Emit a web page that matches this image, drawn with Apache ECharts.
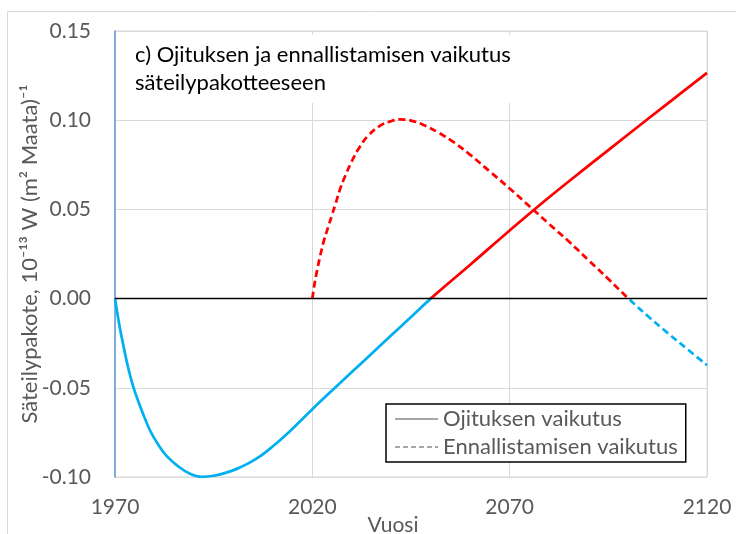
<!DOCTYPE html>
<html>
<head>
<meta charset="utf-8">
<script src="https://cdn.jsdelivr.net/npm/echarts@6/dist/echarts.min.js"></script>
<style>
  html, body { margin: 0; padding: 0; background: #fff; }
  #chart { width: 736px; height: 534px; }
</style>
</head>
<body>
<div id="chart"></div>
<script>
// Ojituksen vaikutus (solid)
const ojitusYears = [1970, 1971, 1972, 1973, 1974, 1975, 1977, 1979, 1981, 1983, 1986, 1989, 1992, 1995, 1998, 2001, 2004, 2007, 2010, 2013, 2016, 2020, 2025, 2030, 2035, 2040, 2045, 2050, 2060, 2070, 2080, 2090, 2100, 2110, 2120];
const ojitusValues = [0, -0.0135, -0.025, -0.0355, -0.0445, -0.052, -0.064, -0.0745, -0.082, -0.088, -0.094, -0.0982, -0.0999, -0.0993, -0.0977, -0.0953, -0.0921, -0.088, -0.0828, -0.077, -0.0707, -0.062, -0.0515, -0.0412, -0.0309, -0.0206, -0.0103, 0, 0.019, 0.0382, 0.0568, 0.0745, 0.092, 0.1093, 0.1265];

// Ennallistamisen vaikutus (dashed)
const ennallYears = [2020, 2020.5, 2021, 2022, 2023, 2024, 2025, 2026, 2027, 2028, 2030, 2032, 2034, 2037, 2040, 2042, 2045, 2048, 2052, 2056, 2060, 2065, 2070, 2075, 2080, 2085, 2090, 2095, 2100, 2105, 2110, 2115, 2120];
const ennallValues = [0, 0.0075, 0.0135, 0.024, 0.033, 0.040, 0.047, 0.054, 0.0612, 0.067, 0.077, 0.085, 0.091, 0.0967, 0.0995, 0.1004, 0.0998, 0.0975, 0.093, 0.0874, 0.0806, 0.0712, 0.0617, 0.0518, 0.0418, 0.032, 0.0215, 0.011, 0.0002, -0.0098, -0.0192, -0.0283, -0.0373];

const yTicks = [-0.10, -0.05, 0.00, 0.05, 0.10, 0.15];
const seriesNames = ["Ojituksen vaikutus", "Ennallistamisen vaikutus"];

const FONT = "Lato";
const GRAY = "#595959";
const zip = (xs, ys) => xs.map((x, i) => [x, ys[i]]);

const chart = echarts.init(document.getElementById("chart"));
chart.setOption({
  animation: false,
  textStyle: { fontFamily: FONT },
  graphic: [
    {
      type: "rect",
      shape: { x: 7.5, y: 11.5, width: 740, height: 540 },
      style: { fill: null, stroke: "#d9d9d9", lineWidth: 1 },
      silent: true,
    },
  ],
  title: {
    text: "c) Ojituksen ja ennallistamisen vaikutus\nsäteilypakotteeseen",
    left: 125,
    top: 35,
    padding: [6, 8, 6, 10],
    backgroundColor: "#fff",
    textStyle: {
      fontFamily: FONT,
      fontSize: 22,
      fontWeight: "normal",
      color: "#000",
      lineHeight: 28,
    },
  },
  legend: {
    orient: "vertical",
    left: 386,
    top: 404,
    padding: [4, 8, 4, 8],
    itemGap: 6,
    itemWidth: 43,
    itemHeight: 14,
    borderColor: "#000",
    borderWidth: 1.5,
    borderRadius: 0,
    backgroundColor: "#fff",
    data: seriesNames,
    itemStyle: { opacity: 0 },
    textStyle: { fontFamily: FONT, fontSize: 22, color: GRAY },
  },
  grid: {
    left: 115,
    right: 29,
    top: 31,
    bottom: 57,
    outerBoundsMode: "none",
    show: true,
    borderColor: "#d9d9d9",
    borderWidth: 1,
  },
  xAxis: {
    type: "value",
    min: 1970,
    max: 2120,
    interval: 50,
    name: "Vuosi",
    nameLocation: "middle",
    nameGap: 38,
    nameMoveOverlap: false,
    nameTextStyle: { fontFamily: FONT, fontSize: 21, color: GRAY, padding: [0, 36, 0, 0] },
    axisLine: { show: false },
    axisTick: { show: false },
    axisLabel: { fontFamily: FONT, fontSize: 21, color: GRAY, margin: 20, formatter: (v) => String(v) },
    splitLine: { show: true, lineStyle: { color: "#d9d9d9", width: 1 } },
  },
  yAxis: {
    type: "value",
    min: yTicks[0],
    max: yTicks[yTicks.length - 1],
    interval: 0.05,
    name: "Säteilypakote, 10\u207B\u00B9\u00B3 W (m\u00B2 Maata)\u207B\u00B9",
    nameLocation: "middle",
    nameGap: 74,
    nameMoveOverlap: false,
    nameTextStyle: { fontFamily: FONT, fontSize: 22, color: GRAY },
    axisLine: { show: true, lineStyle: { color: "#5b9bd5", width: 1.5 } },
    axisTick: { show: false },
    axisLabel: {
      fontFamily: FONT,
      fontSize: 21,
      color: GRAY,
      margin: 24,
      formatter: (v) => Number(v).toFixed(2),
    },
    splitLine: { show: true, lineStyle: { color: "#d9d9d9", width: 1 } },
  },
  visualMap: [
    {
      show: false,
      type: "piecewise",
      seriesIndex: [0, 1],
      dimension: 1,
      pieces: [
        { gte: -1, lt: 0, color: "#00b0f0" },
        { gte: 0, lte: 1, color: "#ff0000" },
      ],
    },
  ],
  series: [
    {
      name: "ojitus",
      type: "line",
      data: zip(ojitusYears, ojitusValues),
      smooth: 0.4,
      symbol: "none",
      lineStyle: { width: 2.75 },
      z: 3,
    },
    {
      name: "ennallistaminen",
      type: "line",
      data: zip(ennallYears, ennallValues),
      smooth: 0.4,
      symbol: "none",
      lineStyle: { width: 2.75, type: [7, 4] },
      z: 3,
    },
    {
      name: seriesNames[0],
      type: "line",
      data: [],
      symbol: "none",
      itemStyle: { color: "#a6a6a6" },
      lineStyle: { color: "#a6a6a6", width: 2 },
      markLine: {
        silent: true,
        symbol: "none",
        label: { show: false },
        lineStyle: { color: "#000", width: 1.3, type: "solid" },
        data: [{ yAxis: 0 }],
      },
    },
    {
      name: seriesNames[1],
      type: "line",
      data: [],
      symbol: "none",
      itemStyle: { color: "#a6a6a6" },
      lineStyle: { color: "#a6a6a6", width: 2, type: [5, 3] },
    },
  ],
});
</script>
</body>
</html>
